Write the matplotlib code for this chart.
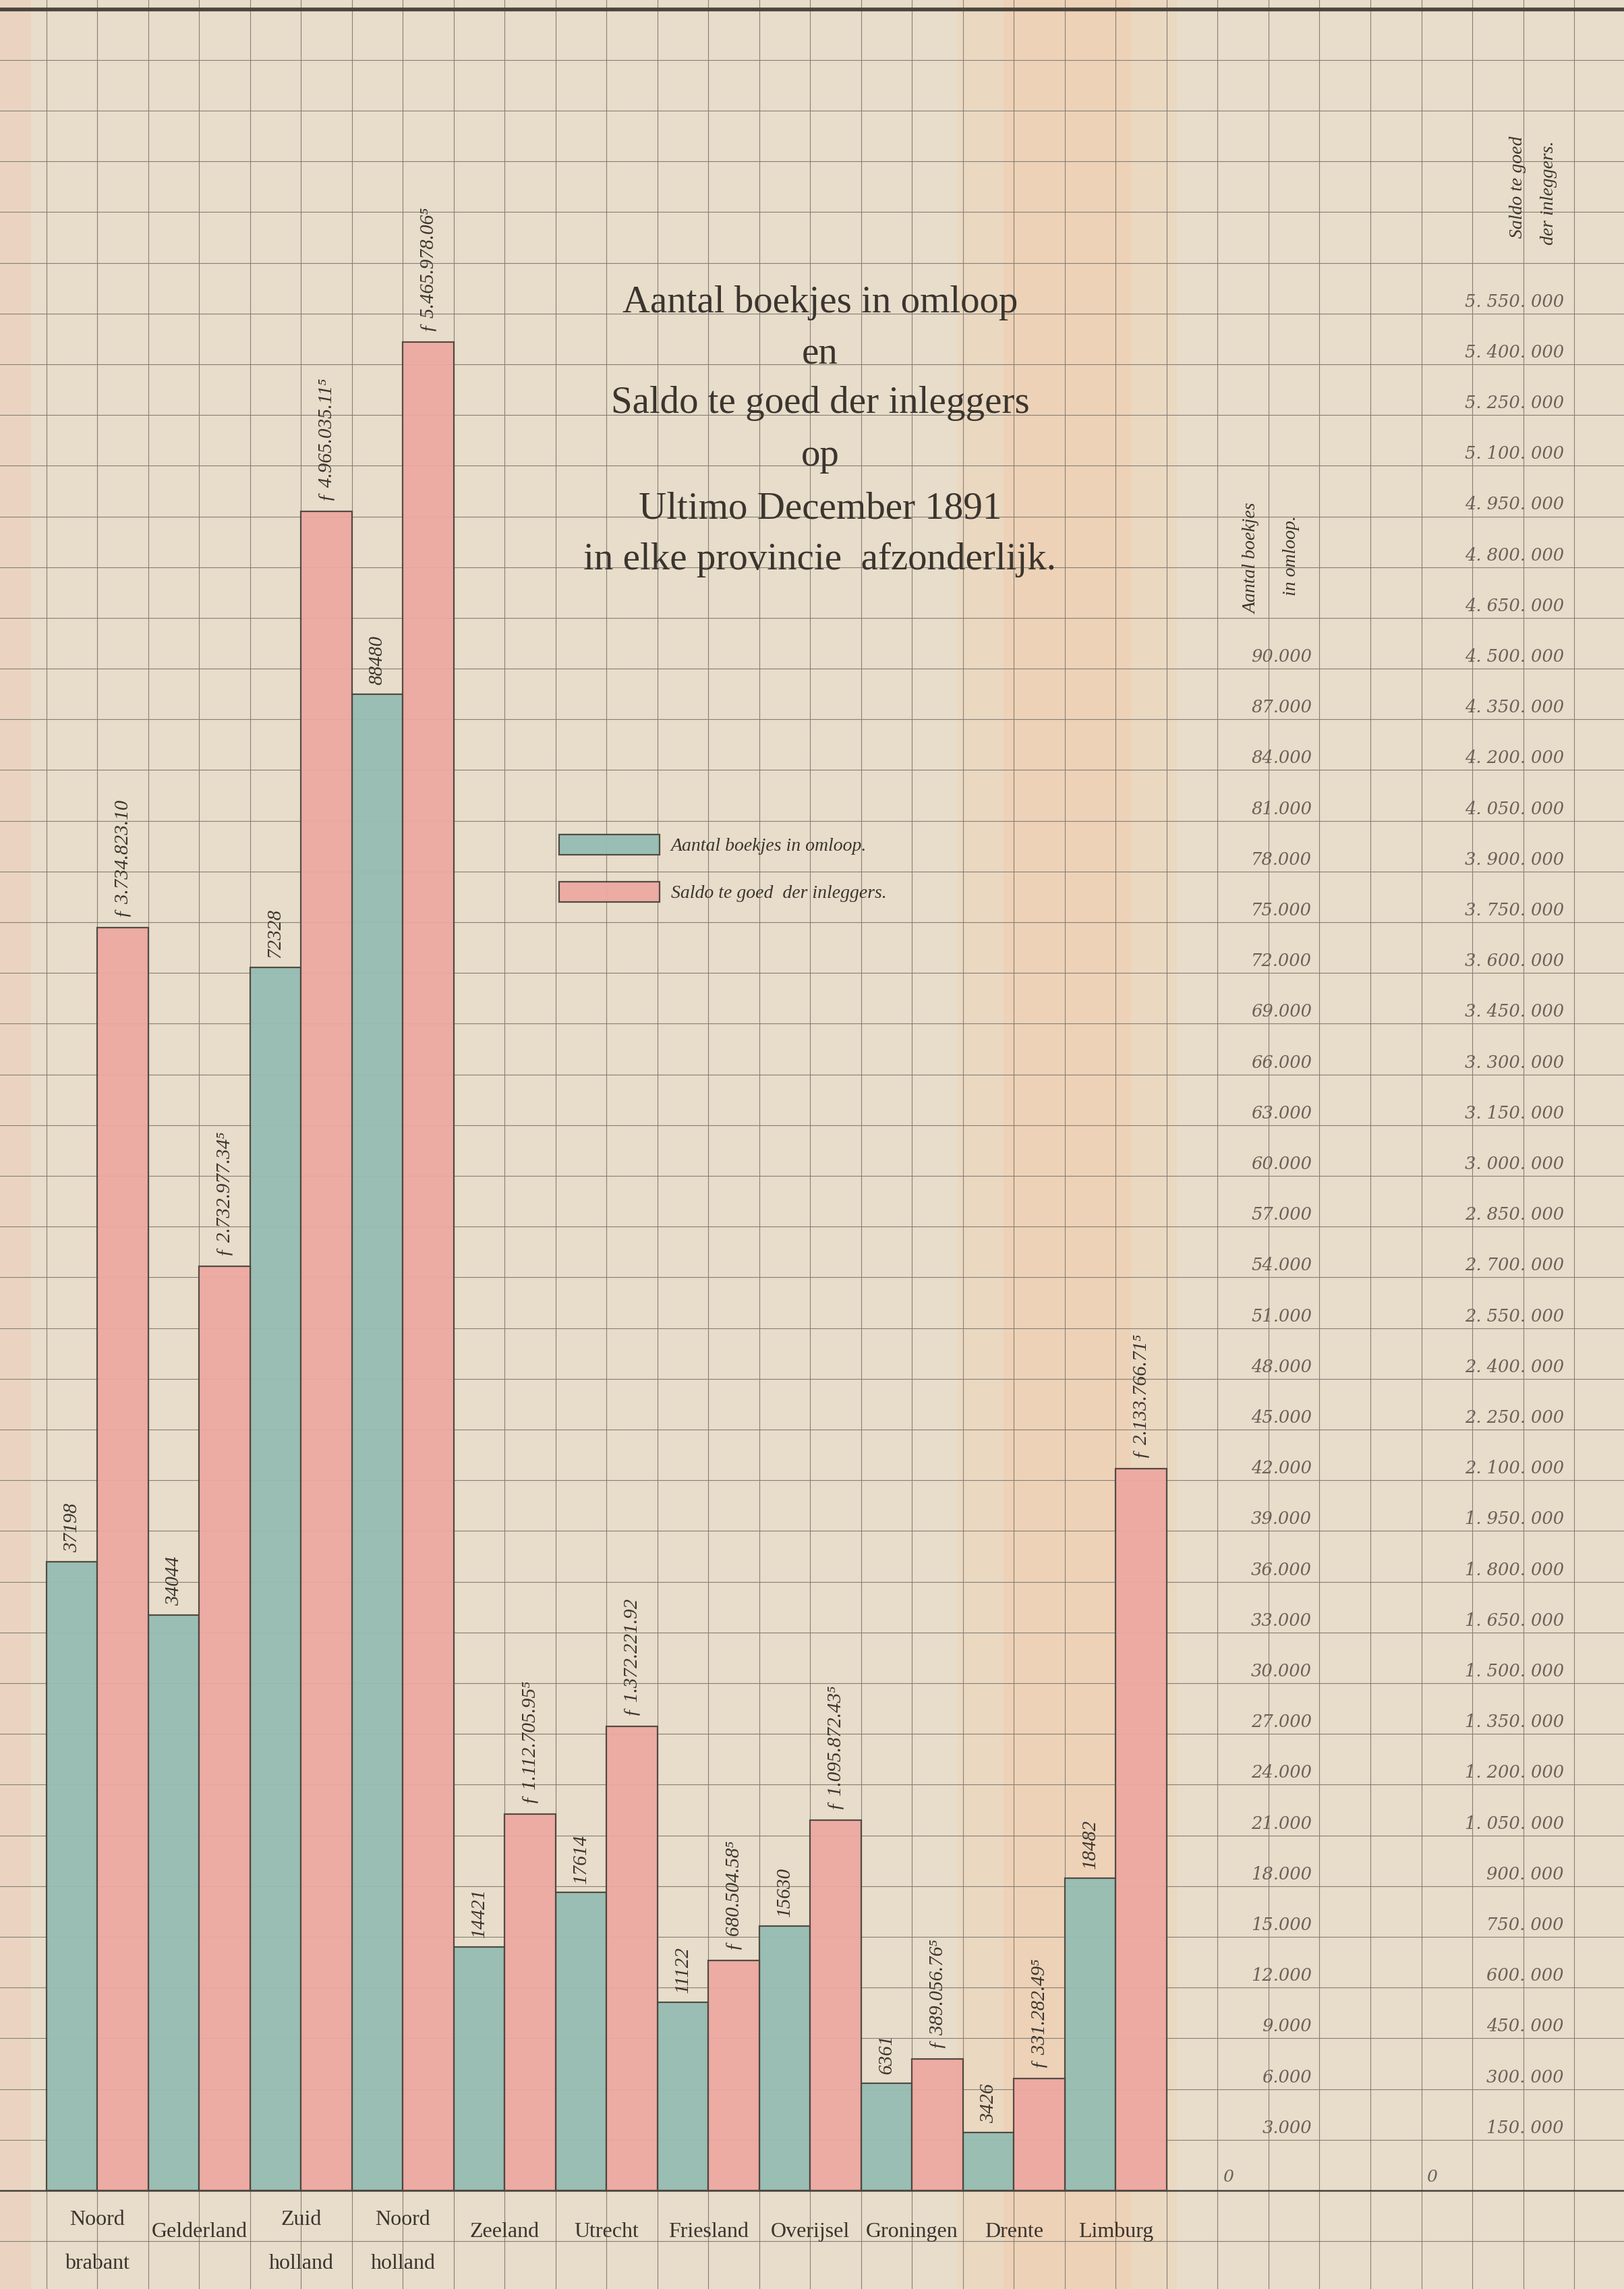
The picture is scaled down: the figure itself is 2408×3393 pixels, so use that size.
import numpy as np
from matplotlib import pyplot as plt

# provinces, Ultimo December 1891
provinces = ['Noord\nbrabant', 'Gelderland', 'Zuid\nholland', 'Noord\nholland', 'Zeeland',
             'Utrecht', 'Friesland', 'Overijsel', 'Groningen', 'Drente', 'Limburg']
boekjes = [37198, 34044, 72328, 88480, 14421, 17614, 11122, 15630, 6361, 3426, 18482]
saldo = [3734823.10, 2732977.345, 4965035.115, 5465978.065, 1112705.955, 1372221.92,
         680504.585, 1095872.435, 389056.765, 331282.495, 2133766.715]
boekjes_labels = ['37198', '34044', '72328', '88480', '14421', '17614',
                  '11122', '15630', '6361', '3426', '18482']
saldo_labels = ['ƒ 3.734.823.10', 'ƒ 2.732.977.34⁵', 'ƒ 4.965.035.11⁵', 'ƒ 5.465.978.06⁵',
                'ƒ 1.112.705.95⁵', 'ƒ 1.372.221.92', 'ƒ 680.504.58⁵', 'ƒ 1.095.872.43⁵',
                'ƒ 389.056.76⁵', 'ƒ 331.282.49⁵', 'ƒ 2.133.766.71⁵']
series_names = ['Aantal boekjes in omloop.', 'Saldo te goed  der inleggers.']
title_lines = ['Aantal boekjes in omloop', 'en', 'Saldo te goed der inleggers', 'op',
               'Ultimo December 1891', 'in elke provincie  afzonderlijk.']

paper = '#e8ddca'
teal = '#95bdb2'
pink = '#eda8a1'
ink = '#3b352f'
grey_ink = '#6a625a'
gridc = '#857f76'
serif = ['Liberation Serif', 'DejaVu Serif']

fig = plt.figure(figsize=(24.08, 33.93), dpi=100, facecolor=paper)
ax = fig.add_axes([0, 0, 1, 1])
ax.set_facecolor(paper)
ax.set_xlim(0.087, 31.98)
ax.set_ylim(-5825, 129540)

# paper tint
ax.axvspan(18.9, 23.2, color='#f1cfae', alpha=0.3, lw=0, zorder=0)
ax.axvspan(19.8, 22.3, color='#f3c9a6', alpha=0.35, lw=0, zorder=0)
ax.axvspan(0.087, 0.7, color='#eec7b4', alpha=0.4, lw=0, zorder=0)

ax.set_xticks(np.arange(1, 32))
ax.set_yticks(np.arange(-3000, 129001, 3000))
ax.tick_params(length=0, labelbottom=False, labelleft=False)
ax.grid(True, color=gridc, lw=0.8)
ax.set_axisbelow(True)
for s in ax.spines.values():
    s.set_visible(False)
ax.axhline(129000, color='#4a443d', lw=4, zorder=3)
ax.axhline(0, color='#4a443d', lw=1.8, zorder=3)

ax2 = ax.twinx()
ax2.set_ylim(ax.get_ylim()[0] * 50, ax.get_ylim()[1] * 50)
ax2.axis('off')

x = np.arange(len(provinces)) * 2 + 1.5
b1 = ax.bar(x, boekjes, width=1, color=teal, edgecolor='#4a443d', lw=1.6, alpha=0.94, zorder=2)
b2 = ax2.bar(x + 1, saldo, width=1, color=pink, edgecolor='#4a443d', lw=1.6, alpha=0.94, zorder=2)

ax.bar_label(b1, labels=boekjes_labels, rotation=90, padding=10, fontsize=21,
             fontstyle='italic', family=serif, color=ink)
ax2.bar_label(b2, labels=saldo_labels, rotation=90, padding=10, fontsize=21,
              fontstyle='italic', family=serif, color=ink)

# province names under the bars
for xi, name in zip(x + 0.5, provinces):
    parts = name.split('\n')
    if len(parts) == 2:
        ax.text(xi, -1755, parts[0], ha='center', va='center', fontsize=23, family=serif, color=ink)
        ax.text(xi, -4309, parts[1], ha='center', va='center', fontsize=23, family=serif, color=ink)
    else:
        ax.text(xi, -2434, name, ha='center', va='center', fontsize=23, family=serif, color=ink)

# title
title_y = [111066, 108033, 105121, 102009, 98897, 95865]
for line, ty in zip(title_lines, title_y):
    ax.text(16.19, ty, line, ha='center', va='baseline', fontsize=41, family=serif, color=ink)

# scales on the right
for v in np.arange(3000, 90001, 3000):
    ax.text(25.85, v + 200, f'{v:,}'.replace(',', '.'), ha='right', va='bottom',
            fontsize=18.5, fontstyle='italic', family='DejaVu Serif', color=grey_ink)
for v in np.arange(150000, 5550001, 150000):
    ax2.text(30.8, v + 10000, f'{v:,}'.replace(',', '. '), ha='right', va='bottom',
             fontsize=18.5, fontstyle='italic', family='DejaVu Serif', color=grey_ink)
ax.text(24.1, 300, '0', ha='left', va='bottom', fontsize=18, fontstyle='italic',
        family='DejaVu Serif', color=grey_ink)
ax.text(28.1, 300, '0', ha='left', va='bottom', fontsize=18, fontstyle='italic',
        family='DejaVu Serif', color=grey_ink)

ax.text(24.67, 96500, 'Aantal boekjes', rotation=90, ha='center', va='center',
        fontsize=20, fontstyle='italic', family=serif, color=ink)
ax.text(25.45, 96700, 'in omloop.', rotation=90, ha='center', va='center',
        fontsize=20, fontstyle='italic', family=serif, color=ink)
ax.text(29.89, 118480, 'Saldo te goed', rotation=90, ha='center', va='center',
        fontsize=20, fontstyle='italic', family=serif, color=ink)
ax.text(30.5, 118130, 'der inleggers.', rotation=90, ha='center', va='center',
        fontsize=20, fontstyle='italic', family=serif, color=ink)

leg = ax2.legend([b1, b2], series_names, loc='upper left', bbox_to_anchor=(11.07, 80187),
                 bbox_transform=ax.transData, frameon=False, borderpad=0, borderaxespad=0,
                 handlelength=5.36, handleheight=1.26, labelspacing=1.44, handletextpad=0.6,
                 prop={'family': serif, 'style': 'italic', 'size': 20})
for t in leg.get_texts():
    t.set_color(ink)

plt.savefig('out.png', dpi=100, facecolor=paper)
